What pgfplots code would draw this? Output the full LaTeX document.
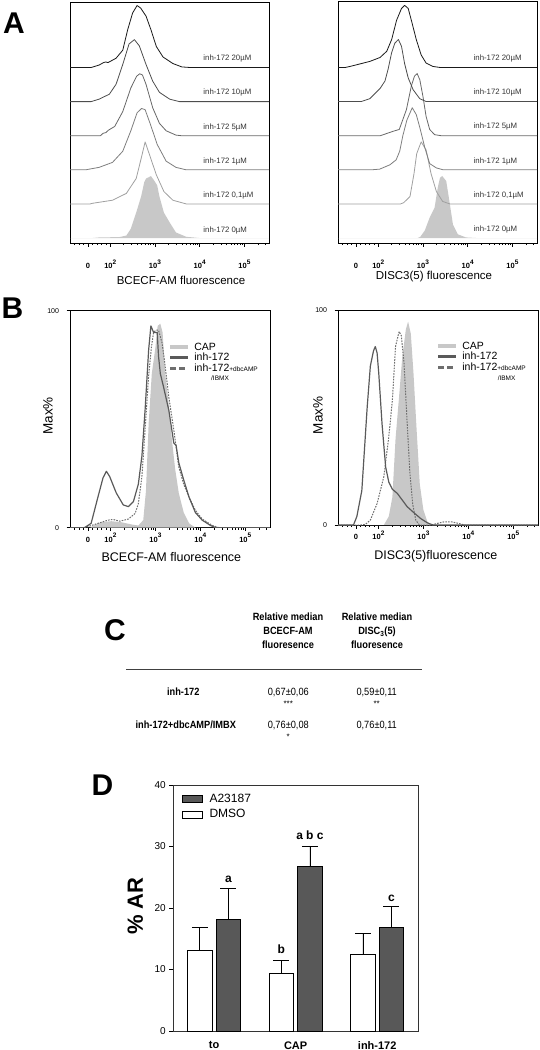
\documentclass[border=0pt]{standalone}
\usepackage{pgfplots}
\pgfplotsset{compat=1.18}
\usepackage{fontspec}
\setmainfont{Liberation Sans}
\newfontfamily\narrowfont[FakeStretch=0.88]{Liberation Sans}
\definecolor{capgray}{HTML}{C8C8C8}
\definecolor{inhgray}{HTML}{5A5A5A}
\definecolor{dashgray}{HTML}{6E6E6E}
\definecolor{bardark}{HTML}{585858}
\definecolor{tA}{HTML}{1A1A1A}
\definecolor{tB}{HTML}{4D4D4D}
\definecolor{tC}{HTML}{686868}
\definecolor{tD}{HTML}{7E7E7E}
\definecolor{tE}{HTML}{A0A0A0}
\definecolor{lblgray}{HTML}{333333}
\newcommand{\dec}[1]{10\raisebox{0.6em}{\fontsize{6.5}{6.5}\selectfont #1}}
\pgfplotsset{
  flowaxis/.style={
    scale only axis, anchor=south west,
    xmin=1.1, xmax=5.55,
    xtick={1.5,2,3,4,5},
    xticklabels={0,\dec{2},\dec{3},\dec{4},\dec{5}},
    minor xtick={1.2,1.3,1.4,1.6,1.7,1.8,1.9,2.301,2.477,2.602,2.699,2.778,2.845,2.903,2.954,3.301,3.477,3.602,3.699,3.778,3.845,3.903,3.954,4.301,4.477,4.602,4.699,4.778,4.845,4.903,4.954,5.301,5.477},
    xtick pos=bottom, ytick pos=left, tick align=outside,
    major tick length=3.5pt, minor tick length=2pt,
    axis line style={line width=0.7pt},
    tick style={black, line width=0.5pt},
    xticklabel style={font=\fontsize{7.5}{8}\selectfont\bfseries, anchor=base},
    xlabel style={anchor=center},
  },
  histline/.style={line width=0.8pt, line join=round, mark=none},
}
\tikzset{Alabel/.style={anchor=west, font=\fontsize{7.8}{8}\selectfont, text=lblgray, inner sep=0pt}}
\begin{document}
\begin{tikzpicture}
\useasboundingbox (0pt,0pt) rectangle (540pt,-1050pt);

% ---------------- Panel letters
\node[anchor=base, inner sep=0pt, font=\fontsize{30}{30}\selectfont\bfseries] at (14pt,-33pt) {A};
\node[anchor=base, inner sep=0pt, font=\fontsize{30}{30}\selectfont\bfseries] at (12.5pt,-318pt) {B};
\node[anchor=base, inner sep=0pt, font=\fontsize{30}{30}\selectfont\bfseries] at (115pt,-640pt) {C};
\node[anchor=base, inner sep=0pt, font=\fontsize{30}{30}\selectfont\bfseries] at (102.5pt,-795pt) {D};

% ---------------- Panel A left
\begin{axis}[flowaxis, at={(70pt,-243pt)}, width=199pt, height=241pt,
  ymin=-8, ymax=380.7, ytick=\empty,
  xlabel={BCECF-AM fluorescence},
  xlabel style={font=\fontsize{11.5}{13}\selectfont, at={(axis description cs:0.558,-0.154)}},
  xticklabel style={yshift=-22pt}]
\addplot[fill=capgray, draw=none] coordinates {(1.1,0)(1.6,0)(1.75,1)(2.2,1.5)(2.36,4)(2.46,15)(2.58,41)(2.69,67)(2.76,90)(2.8,96)(2.86,98)(2.91,100)(2.98,93)(3.05,85)(3.1,67)(3.2,41)(3.33,25)(3.47,9)(3.7,2)(4.0,0)(5.55,0)} \closedcycle;
\addplot[histline, tE, y filter/.expression={y+55}] coordinates {(1.1,0)(1.55,0)(1.6,1)(2.05,6)(2.36,17)(2.58,41)(2.69,73)(2.78,100)(2.88,79)(3.03,47)(3.2,20)(3.4,6)(3.7,0)(5.55,0)};
\addplot[histline, tD, y filter/.expression={y+110}] coordinates {(1.1,0)(1.45,0)(1.52,1)(1.75,4)(2.05,12)(2.28,30)(2.46,63)(2.6,92)(2.7,99)(2.78,97)(2.9,73)(3.05,41)(3.25,14)(3.47,4)(3.7,0)(5.55,0)};
\addplot[histline, tC, y filter/.expression={y+165}] coordinates {(1.1,0)(1.78,0)(1.84,4)(1.9,5)(1.96,9)(2.1,15)(2.28,39)(2.46,77)(2.59,96)(2.66,100)(2.72,98)(2.8,83)(2.95,45)(3.1,20)(3.25,8)(3.47,1)(3.6,0)(5.55,0)};
\addplot[histline, tB, y filter/.expression={y+220}] coordinates {(1.1,0)(1.57,0)(1.75,4)(1.98,12)(2.13,28)(2.28,60)(2.42,93)(2.54,100)(2.65,90)(2.8,60)(2.95,33)(3.1,15)(3.33,4)(3.55,0)(5.55,0)};
\addplot[histline, tA, y filter/.expression={y+275}] coordinates {(1.1,0)(1.57,0)(1.75,4)(1.85,8)(1.9,9)(1.95,8)(2.13,15)(2.28,28)(2.39,61)(2.5,88)(2.6,100)(2.68,96)(2.8,83)(2.91,61)(3.03,34)(3.18,17)(3.4,6.5)(3.6,1)(3.8,0)(5.55,0)};
\node[Alabel] at (axis cs:4.08,289) {inh-172 20µM};
\node[Alabel] at (axis cs:4.08,234) {inh-172 10µM};
\node[Alabel] at (axis cs:4.08,179) {inh-172 5µM};
\node[Alabel] at (axis cs:4.08,124) {inh-172 1µM};
\node[Alabel] at (axis cs:4.08,69) {inh-172 0,1µM};
\node[Alabel] at (axis cs:4.08,13) {inh-172 0µM};
\end{axis}

% ---------------- Panel A right
\begin{axis}[flowaxis, at={(338pt,-243pt)}, width=199pt, height=242pt,
  ymin=-8, ymax=382, ytick=\empty,
  xlabel={DISC3(5) fluorescence},
  xlabel style={font=\fontsize{11.5}{13}\selectfont, at={(axis description cs:0.482,-0.138)}},
  xticklabel style={yshift=-22pt}]
\addplot[fill=capgray, draw=none] coordinates {(1.1,0)(2.88,0)(2.94,2)(3.04,12)(3.15,33)(3.26,49)(3.33,81)(3.38,97)(3.43,100)(3.52,92)(3.59,60)(3.67,22)(3.78,6)(3.96,1)(4.2,0)(5.55,0)} \closedcycle;
\addplot[histline, tE, y filter/.expression={y+55}] coordinates {(1.1,0)(2.5,0)(2.57,2)(2.71,12)(2.8,49)(2.86,81)(2.96,100)(3.07,87)(3.18,49)(3.3,20)(3.44,4)(3.6,0)(5.55,0)};
\addplot[histline, tD, y filter/.expression={y+110}] coordinates {(1.1,0)(1.85,0)(2.03,1)(2.26,8)(2.4,16)(2.48,30)(2.55,55)(2.64,80)(2.76,100)(2.85,89)(2.93,68)(3.04,36)(3.15,10)(3.3,3)(3.45,0)(5.55,0)};
\addplot[histline, tC, y filter/.expression={y+165}] coordinates {(1.1,0)(2.05,0)(2.33,7)(2.47,10)(2.63,42)(2.74,80)(2.81,96)(2.87,100)(2.93,90)(3.0,63)(3.07,31)(3.15,10)(3.26,1.6)(3.4,0)(5.55,0)};
\addplot[histline, tB, y filter/.expression={y+220}] coordinates {(1.1,0)(1.62,0)(1.81,4.5)(2.04,21)(2.15,33)(2.22,52)(2.3,79)(2.37,94)(2.45,100)(2.52,89)(2.59,61)(2.67,38)(2.78,19)(2.93,4.5)(3.07,0)(5.55,0)};
\addplot[histline, tA, y filter/.expression={y+275}] coordinates {(1.1,0)(1.27,0)(1.37,1.6)(1.81,9.6)(2.04,16)(2.19,26)(2.3,45)(2.41,76)(2.52,95)(2.59,100)(2.67,95)(2.74,76)(2.85,45)(2.96,20)(3.07,7)(3.22,1.6)(3.37,0)(5.55,0)};
\node[Alabel] at (axis cs:4.13,289) {inh-172 20µM};
\node[Alabel] at (axis cs:4.13,234) {inh-172 10µM};
\node[Alabel] at (axis cs:4.13,179) {inh-172 5µM};
\node[Alabel] at (axis cs:4.13,124) {inh-172 1µM};
\node[Alabel] at (axis cs:4.13,69) {inh-172 0,1µM};
\node[Alabel] at (axis cs:4.13,13) {inh-172 0µM};
\end{axis}

% ---------------- Panel B left
\begin{axis}[flowaxis, at={(70pt,-527.7pt)}, width=200pt, height=217pt,
  ymin=0, ymax=100, ytick={0,100}, yticklabels={0,100},
  yticklabel style={font=\fontsize{7}{8}\selectfont, xshift=-4pt},
  xticklabel style={yshift=-11pt},
  xlabel={BCECF-AM fluorescence},
  xlabel style={font=\fontsize{12.5}{14}\selectfont, at={(axis description cs:0.507,-0.135)}},
  ylabel={Max\%},
  ylabel style={font=\fontsize{13.5}{15}\selectfont, at={(axis description cs:-0.11,0.515)}, anchor=center},
  legend style={at={(axis description cs:0.49,0.862)}, anchor=north west, draw=none, fill=none, inner sep=0pt,
    font=\fontsize{10.5}{11}\selectfont, row sep=-2.5pt, legend cell align=left},
  ]
\addplot[fill=capgray, draw=none, forget plot] coordinates {(1.1,0)(1.55,0)(1.62,1)(1.79,2.5)(2.02,3)(2.25,2.5)(2.47,1.5)(2.62,1)(2.73,3.5)(2.79,17)(2.85,48)(2.92,71)(3.0,83)(3.05,93)(3.11,94)(3.16,90)(3.22,71)(3.3,56)(3.37,40)(3.44,27)(3.52,16)(3.63,7)(3.75,2)(3.89,0)(5.55,0)} \closedcycle;
\addplot[dashgray, line width=1pt, dash pattern=on 1.6pt off 1.2pt, forget plot] coordinates {(1.1,0)(1.4,0)(1.5,0.5)(1.72,2)(1.95,3.5)(2.06,3.8)(2.21,3)(2.4,4)(2.55,6.6)(2.62,11)(2.7,23.5)(2.77,45)(2.85,70)(2.91,83)(2.96,90)(3.01,91)(3.07,91)(3.15,85)(3.22,74)(3.3,60)(3.41,45)(3.52,28)(3.63,20)(3.75,14)(3.89,8)(4.04,4)(4.27,1)(4.42,0)(5.55,0)};
\addplot[inhgray, line width=1.2pt, line join=round, forget plot] coordinates {(1.1,0)(1.42,0)(1.57,2)(1.72,14)(1.835,23)(1.91,26)(1.985,23.5)(2.13,16)(2.285,10.5)(2.4,9.7)(2.51,12)(2.62,20)(2.7,33)(2.77,54)(2.85,82)(2.9,93)(2.96,90)(3.04,90)(3.07,79)(3.11,71)(3.18,65)(3.3,54)(3.41,39)(3.46,38)(3.52,30)(3.63,22)(3.75,14)(3.89,7)(4.04,3.5)(4.23,1)(4.34,0)(5.55,0)};
\addlegendimage{legend image code/.code={\draw[capgray, line width=4pt] (0pt,0pt) -- (18pt,0pt); \path (22pt,0pt);}}
\addlegendentry{CAP}
\addlegendimage{legend image code/.code={\draw[inhgray, line width=3pt] (0pt,0pt) -- (18pt,0pt); \path (22pt,0pt);}}
\addlegendentry{inh-172}
\addlegendimage{legend image code/.code={\draw[dashgray, line width=3pt, dash pattern=on 6pt off 3pt] (0pt,0pt) -- (18pt,0pt); \path (22pt,0pt);}}
\addlegendentry{inh-172{\fontsize{6.5}{7}\selectfont+dbcAMP}}
\node[font=\fontsize{6.5}{7}\selectfont, anchor=center] at (axis description cs:0.75,0.69) {/IBMX};
\end{axis}

% ---------------- Panel B right
\begin{axis}[flowaxis, at={(338pt,-525pt)}, width=200pt, height=215pt,
  ymin=0, ymax=100, ytick={0,100}, yticklabels={0,100},
  yticklabel style={font=\fontsize{7}{8}\selectfont, xshift=-4pt},
  xticklabel style={yshift=-11pt},
  xlabel={DISC3(5)fluorescence},
  xlabel style={font=\fontsize{12.5}{14}\selectfont, at={(axis description cs:0.489,-0.147)}},
  ylabel={Max\%},
  ylabel style={font=\fontsize{13.5}{15}\selectfont, at={(axis description cs:-0.1,0.51)}, anchor=center},
  legend style={at={(axis description cs:0.49,0.862)}, anchor=north west, draw=none, fill=none, inner sep=0pt,
    font=\fontsize{10.5}{11}\selectfont, row sep=-2.5pt, legend cell align=left},
  ]
\addplot[fill=capgray, draw=none, forget plot] coordinates {(1.1,0)(2.12,0)(2.23,4)(2.31,13)(2.38,40)(2.46,60)(2.53,78)(2.61,91)(2.66,94.6)(2.72,89)(2.78,70.5)(2.85,44)(2.92,19)(3.0,7)(3.09,1.5)(3.17,0)(5.55,0)} \closedcycle;
\addplot[dashgray, line width=1pt, dash pattern=on 1.6pt off 1.2pt, forget plot] coordinates {(1.1,0)(1.6,0)(1.71,0.3)(1.82,2.3)(1.97,10)(2.12,22.5)(2.23,41)(2.31,58)(2.38,83)(2.46,90)(2.51,88)(2.57,75)(2.64,47)(2.7,24)(2.76,10)(2.83,2.3)(2.91,0)(3.17,0)(3.32,0.8)(3.47,1.5)(3.62,1.5)(3.77,0.8)(3.92,0)(5.55,0)};
\addplot[inhgray, line width=1.2pt, line join=round, forget plot] coordinates {(1.1,0)(1.445,0)(1.52,4)(1.63,16)(1.75,55)(1.82,74)(1.89,81)(1.93,83)(1.97,80)(2.007,70.5)(2.08,47)(2.16,27)(2.23,20)(2.31,16.6)(2.42,14.7)(2.53,11.6)(2.64,8.5)(2.79,5.7)(2.94,3)(3.09,1)(3.21,0)(5.55,0)};
\addlegendimage{legend image code/.code={\draw[capgray, line width=4pt] (0pt,0pt) -- (18pt,0pt); \path (22pt,0pt);}}
\addlegendentry{CAP}
\addlegendimage{legend image code/.code={\draw[inhgray, line width=3pt] (0pt,0pt) -- (18pt,0pt); \path (22pt,0pt);}}
\addlegendentry{inh-172}
\addlegendimage{legend image code/.code={\draw[dashgray, line width=3pt, dash pattern=on 6pt off 3pt] (0pt,0pt) -- (18pt,0pt); \path (22pt,0pt);}}
\addlegendentry{inh-172{\fontsize{6.5}{7}\selectfont+dbcAMP}}
\node[font=\fontsize{6.5}{7}\selectfont, anchor=center] at (axis description cs:0.843,0.684) {/IBMX};
\end{axis}

% ---------------- Panel C (table)
\begin{scope}[every node/.style={inner sep=0pt}]
\node[align=center, font=\narrowfont\bfseries\fontsize{10.5}{14}\selectfont] at (288pt,-631pt) {Relative median\\BCECF-AM\\fluoresence};
\node[align=center, font=\narrowfont\bfseries\fontsize{10.5}{14}\selectfont] at (377pt,-631pt) {Relative median\\DISC\textsubscript{3}(5)\\fluoresence};
\draw[black!75, line width=0.8pt] (126pt,-669pt) -- (422pt,-669pt);
\node[font=\narrowfont\bfseries\fontsize{10.5}{12}\selectfont] at (183.3pt,-692pt) {inh-172};
\node[font=\narrowfont\fontsize{10.5}{12}\selectfont] at (288.3pt,-692pt) {0,67±0,06};
\node[font=\narrowfont\fontsize{10.5}{12}\selectfont] at (376.7pt,-692pt) {0,59±0,11};
\node[font=\fontsize{8}{8}\selectfont] at (288.3pt,-704pt) {***};
\node[font=\fontsize{8}{8}\selectfont] at (376.7pt,-704pt) {**};
\node[font=\narrowfont\bfseries\fontsize{10.5}{12}\selectfont] at (185.8pt,-725pt) {inh-172+dbcAMP/IMBX};
\node[font=\narrowfont\fontsize{10.5}{12}\selectfont] at (288.3pt,-725pt) {0,76±0,08};
\node[font=\narrowfont\fontsize{10.5}{12}\selectfont] at (376.7pt,-725pt) {0,76±0,11};
\node[font=\fontsize{8}{8}\selectfont] at (288.3pt,-737pt) {*};
\end{scope}

% ---------------- Panel D (bars)
\begin{axis}[at={(173.3pt,-1031pt)}, anchor=south west, scale only axis, width=244.7pt, height=246pt,
  xmin=-0.5, xmax=2.5, ymin=0, ymax=40,
  xtick={0,1,2}, xticklabels={to,CAP,inh-172},
  xticklabel style={font=\fontsize{11}{12}\selectfont\bfseries, yshift=-3pt},
  ytick={0,10,20,30,40},
  yticklabel style={font=\fontsize{10}{11}\selectfont},
  /pgf/number format/assume math mode=true,
  xtick pos=bottom, ytick pos=left, tick align=outside,
  major tick length=4pt, major x tick style={draw=none},
  axis line style={line width=0.7pt, black!80},
  tick style={black, line width=0.6pt},
  ylabel={\% AR},
  ylabel style={font=\fontsize{22}{24}\selectfont\bfseries, at={(axis description cs:-0.155,0.508)}, anchor=center},
  ybar, bar width=0.3,
  legend style={at={(axis description cs:0.035,0.972)}, anchor=north west, draw=none, fill=none, inner sep=0pt,
    font=\fontsize{12}{14}\selectfont, row sep=1.5pt, legend cell align=left},
  ]
\addplot[bar shift=-0.175, fill=white, draw=black, line width=0.7pt, forget plot,
  error bars/.cd, y dir=plus, y explicit,
  error bar style={black, line width=0.8pt},
  error mark options={rotate=90, mark size=8pt, black, line width=0.8pt}]
  coordinates {(0,13.1) +- (0,3.7) (1,9.4) +- (0,2.1) (2,12.4) +- (0,3.5)};
\addplot[bar shift=0.175, fill=bardark, draw=black, line width=0.7pt, forget plot,
  error bars/.cd, y dir=plus, y explicit,
  error bar style={black, line width=0.8pt},
  error mark options={rotate=90, mark size=8pt, black, line width=0.8pt}]
  coordinates {(0,18.2) +- (0,5.0) (1,26.8) +- (0,3.3) (2,16.8) +- (0,3.5)};
\addlegendimage{legend image code/.code={\draw[fill=bardark, draw=black, line width=0.6pt] (0pt,-3.5pt) rectangle (20pt,3.5pt); \path (25pt,0pt);}}
\addlegendentry{A23187}
\addlegendimage{legend image code/.code={\draw[fill=white, draw=black, line width=0.6pt] (0pt,-3.5pt) rectangle (20pt,3.5pt); \path (25pt,0pt);}}
\addlegendentry{DMSO}
\node[anchor=base, inner sep=0pt, font=\fontsize{12}{12}\selectfont\bfseries] at (axis cs:0.175,24.1) {a};
\node[anchor=base, inner sep=0pt, font=\fontsize{12}{12}\selectfont\bfseries] at (axis cs:1.175,31.1) {a b c};
\node[anchor=base, inner sep=0pt, font=\fontsize{12}{12}\selectfont\bfseries] at (axis cs:0.825,12.6) {b};
\node[anchor=base, inner sep=0pt, font=\fontsize{12}{12}\selectfont\bfseries] at (axis cs:2.175,21.0) {c};
\end{axis}
\end{tikzpicture}
\end{document}
